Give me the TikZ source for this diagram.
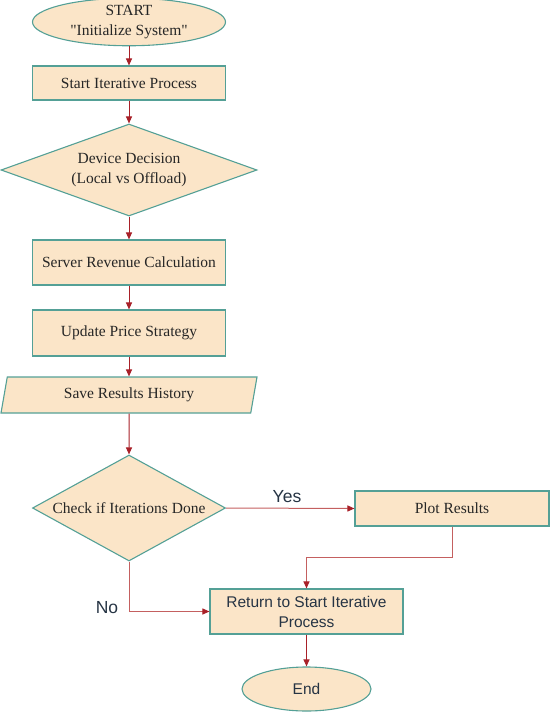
\documentclass[tikz,border=0pt]{standalone}
\usepackage{fontspec}
\setmainfont{Liberation Serif}[Ligatures=TeXOff]
\setsansfont{Liberation Sans}
\usetikzlibrary{shapes.geometric}
\usetikzlibrary{arrows.meta}
\definecolor{boxfill}{RGB}{251,229,200}
\definecolor{boxline}{RGB}{84,160,150}
\definecolor{arrred}{RGB}{168,32,40}
\definecolor{linkred}{RGB}{196,96,96}
\definecolor{sanstext}{RGB}{38,52,68}
\newcommand{\flow}[2]{\draw[flowarr] (#1) -- (#2);}

\begin{document}
\begin{tikzpicture}[x=1pt, y=-1pt,
    every node/.style={font=\fontsize{15.5}{20}\selectfont, text=black!85},
    base/.style={draw=boxline, fill=boxfill, line width=1.1pt, inner sep=0pt, align=center},
    procbox/.style={base, rectangle, minimum width=193pt},
    termbox/.style={base, ellipse},
    decbox/.style={base, diamond},
    iobox/.style={base, trapezium, trapezium left angle=66, trapezium right angle=114,
        trapezium stretches body, minimum width=256pt, minimum height=36pt},
    sanstxt/.style={font=\sffamily\fontsize{15.5}{20}\selectfont, text=sanstext},
    flowarr/.style={draw=arrred, line width=1pt, -{Triangle[length=7pt,width=6pt]}},
    linkarr/.style={draw=linkred, line width=1pt, -{Triangle[length=7pt,width=6pt,color=arrred]}}]
    \useasboundingbox (0,0) rectangle (550,712);
    % main column
    \node[termbox, minimum width=193pt, minimum height=42pt] (start) at (129,22) {START\\"Initialize System"};
    \node[procbox, minimum height=34pt] (iter) at (129,83) {Start Iterative Process};
    \node[decbox, aspect=2.78, minimum width=256pt, minimum height=92pt] (device) at (129,170) {Device Decision\\(Local vs Offload)};
    \node[procbox, minimum height=45pt] (revenue) at (129,262.5) {Server Revenue Calculation};
    \node[procbox, minimum height=46pt] (price) at (129,333) {Update Price Strategy};
    \node[iobox] (save) at (129,395) {Save Results History};
    \node[decbox, aspect=1.82, minimum width=193pt, minimum height=106pt] (check) at (129,508) {Check if Iterations Done};
    % right branch
    \node[procbox, minimum width=194pt, minimum height=35pt] (plot) at (452,508.5) {Plot Results};
    \node[procbox, minimum height=45pt, sanstxt] (ret) at (306.5,611.5) {Return to Start Iterative\\Process};
    \node[termbox, minimum width=129pt, minimum height=44pt, sanstxt] (finish) at (306.5,689) {End};
    % labels
    \node[sanstxt, font=\sffamily\fontsize{17.5}{20}\selectfont] (yes) at (287,497) {Yes};
    \node[sanstxt, font=\sffamily\fontsize{17.5}{20}\selectfont] (no) at (107,608) {No};
    % connectors
    \flow{start}{iter}
    \flow{iter}{device}
    \flow{device}{revenue}
    \flow{revenue}{price}
    \flow{price}{save}
    \flow{save}{check}
    \draw[linkarr] (check.east) -- (plot.west);
    \draw[linkarr] (plot.south) -- ++(0,31) -| (ret.north);
    \draw[linkarr] (check.south) |- (ret.west);
    \flow{ret}{finish}
\end{tikzpicture}
\end{document}
